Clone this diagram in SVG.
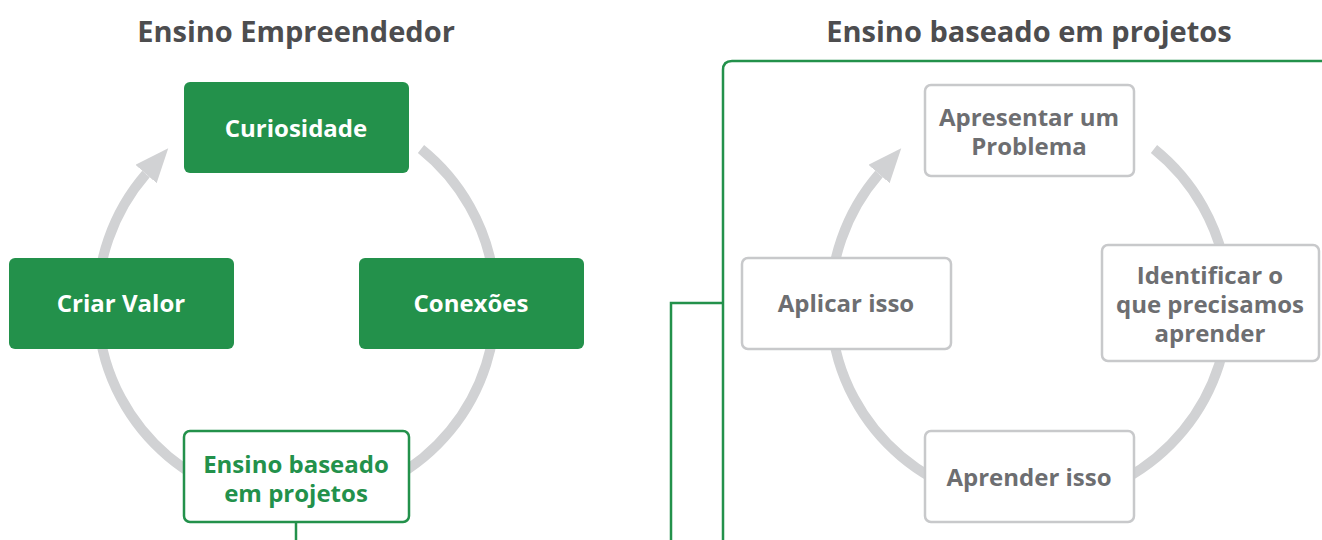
<svg xmlns="http://www.w3.org/2000/svg" width="1322" height="540" viewBox="0 0 1322 540">
<defs>
<style>
.title{font-family:"Open Sans","Liberation Sans",sans-serif;font-weight:700;font-size:29px;fill:#4d4d4f;text-anchor:middle}
.lbl{font-family:"Open Sans","Liberation Sans",sans-serif;font-weight:700;font-size:24px;text-anchor:middle}
.g{fill:#23914b}
.gb{fill:#fff;stroke:#23914b;stroke-width:2.5}
.wb{fill:#fff;stroke:#c8c9cb;stroke-width:2.5}
.wt{fill:#fff}
.gt{fill:#23914b}
.tt{fill:#6d6e71}
.ring{fill:none;stroke:#d1d2d4;stroke-width:10}
.conn{fill:none;stroke:#23914b;stroke-width:2.5}
</style>
<marker id="ah" markerUnits="userSpaceOnUse" markerWidth="40" markerHeight="40" refX="0" refY="14" orient="auto">
<path d="M0 0 L34 14 L0 28 Z" fill="#d1d2d4"/>
</marker>
</defs>
<rect width="1322" height="540" fill="#fff"/>
<text class="title" x="296" y="42">Ensino Empreendedor</text>
<text class="title" x="1029" y="42">Ensino baseado em projetos</text>
<g id="connectors">
<path class="ring" d="M 421 149 A 199 199 0 1 1 146 174" marker-end="url(#ah)"/>
<path class="ring" d="M 1154 149 A 199 199 0 1 1 879 174" marker-end="url(#ah)"/>
<path class="conn" d="M 296 522 V 540"/>
<path class="conn" d="M 671 540 V 303 H 723"/>
<path class="conn" d="M 723 540 V 70 Q 723 61 732 61 H 1322"/>
</g>
<g id="curiosidade"><rect class="g" x="184" y="82" width="225" height="91" rx="6"/><text class="lbl wt" x="296" y="137">Curiosidade</text></g>
<g id="criar-valor"><rect class="g" x="9" y="258" width="225" height="91" rx="6"/><text class="lbl wt" x="121" y="312">Criar Valor</text></g>
<g id="conexoes"><rect class="g" x="359" y="258" width="225" height="91" rx="6"/><text class="lbl wt" x="471" y="312">Conexões</text></g>
<g id="ensino-projetos"><rect class="gb" x="184" y="431" width="225" height="91" rx="6"/><text class="lbl gt" x="296" y="473">Ensino baseado</text><text class="lbl gt" x="296" y="502">em projetos</text></g>
<g id="apresentar"><rect class="wb" x="925" y="85" width="209" height="91" rx="6"/><text class="lbl tt" x="1029" y="126">Apresentar um</text><text class="lbl tt" x="1029" y="155">Problema</text></g>
<g id="aplicar"><rect class="wb" x="742" y="258" width="209" height="91" rx="6"/><text class="lbl tt" x="846" y="312">Aplicar isso</text></g>
<g id="identificar"><rect class="wb" x="1102" y="245" width="217" height="116" rx="6"/><text class="lbl tt" x="1210" y="284">Identificar o</text><text class="lbl tt" x="1210" y="313">que precisamos</text><text class="lbl tt" x="1210" y="342">aprender</text></g>
<g id="aprender"><rect class="wb" x="925" y="431" width="209" height="91" rx="6"/><text class="lbl tt" x="1029" y="486">Aprender isso</text></g>
</svg>
